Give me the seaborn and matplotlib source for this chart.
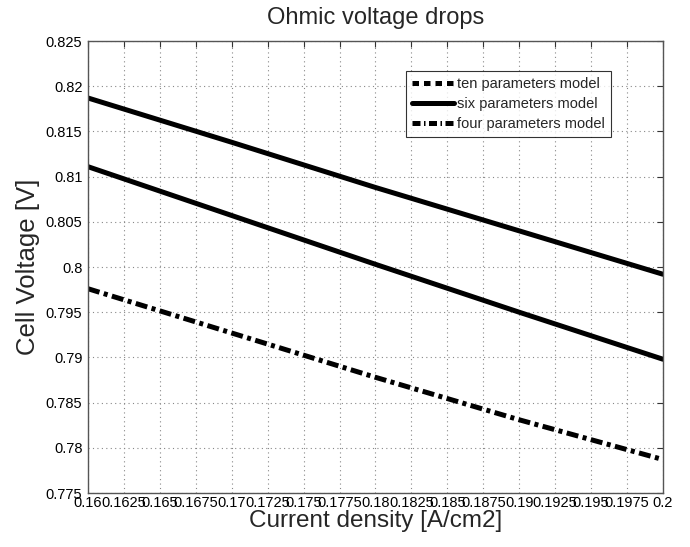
import matplotlib
matplotlib.use("Agg")
import matplotlib.pyplot as plt
import seaborn as sns
import pandas as pd
from matplotlib.lines import Line2D

# Data
current_density = [0.16, 0.17, 0.18, 0.19, 0.20]
ten_params = [0.8187, 0.8138, 0.8088, 0.8040, 0.7992]
six_params = [0.8111, 0.8057, 0.8003, 0.7950, 0.7898]
four_params = [0.7976, 0.7927, 0.7878, 0.7831, 0.7787]

x_ticks = [0.16, 0.1625, 0.165, 0.1675, 0.17, 0.1725, 0.175, 0.1775, 0.18,
           0.1825, 0.185, 0.1875, 0.19, 0.1925, 0.195, 0.1975, 0.2]
x_tick_labels = ["0.16", "0.1625", "0.165", "0.1675", "0.17", "0.1725", "0.175",
                 "0.1775", "0.18", "0.1825", "0.185", "0.1875", "0.19", "0.1925",
                 "0.195", "0.1975", "0.2"]
y_ticks = [0.775, 0.78, 0.785, 0.79, 0.795, 0.8, 0.805, 0.81, 0.815, 0.82, 0.825]
y_tick_labels = ["0.775", "0.78", "0.785", "0.79", "0.795", "0.8", "0.805",
                 "0.81", "0.815", "0.82", "0.825"]
legend_labels = ["ten parameters model", "six parameters model", "four parameters model"]

sns.set_style("white")
plt.rcParams['font.family'] = ['Liberation Sans', 'DejaVu Sans']

fig = plt.figure(figsize=(6.9, 5.47), dpi=100)
ax = fig.add_axes([0.1275, 0.0987, 0.8333, 0.8263])

df = pd.DataFrame({"x": current_density, "ten": ten_params,
                   "six": six_params, "four": four_params})
lw = 3.6
sns.lineplot(data=df, x="x", y="ten", ax=ax, color="black", linewidth=lw)
sns.lineplot(data=df, x="x", y="six", ax=ax, color="black", linewidth=lw)
sns.lineplot(data=df, x="x", y="four", ax=ax, color="black", linewidth=lw,
             dashes=False)
ax.lines[-1].set_dashes((2.4, 0.9, 0.8, 0.9))

ax.set_xlim(0.16, 0.2)
ax.set_ylim(0.775, 0.825)
ax.set_xticks(x_ticks)
ax.set_xticklabels(x_tick_labels)
ax.set_yticks(y_ticks)
ax.set_yticklabels(y_tick_labels)
ax.tick_params(direction="in", length=4, width=0.8, labelsize=10.5, colors="#333333",
               labelcolor="black", top=True, right=True)
ax.tick_params(axis="y", pad=4)
ax.tick_params(axis="x", pad=2)
ax.grid(True, linestyle=(0, (1, 3)), color="#888888", linewidth=0.8)
for s in ax.spines.values():
    s.set_color("#555555")
    s.set_linewidth(1.0)

ax.set_title("Ohmic voltage drops", fontsize=17, pad=12)
ax.set_xlabel("Current density [A/cm2]", fontsize=17.5, labelpad=0)
ax.set_ylabel("Cell Voltage [V]", fontsize=18.5, labelpad=4)

handles = [
    Line2D([], [], color="black", linewidth=lw, linestyle=(0, (1.3, 1.0))),
    Line2D([], [], color="black", linewidth=lw, linestyle="-"),
    Line2D([], [], color="black", linewidth=lw, linestyle=(0, (1.6, 0.7, 0.3, 0.7))),
]
leg = ax.legend(handles, legend_labels, loc="upper left",
                bbox_to_anchor=(0.553, 0.933), fontsize=10.5, frameon=True,
                fancybox=False, edgecolor="black", handlelength=2.9,
                handletextpad=0.2, borderpad=0.4, labelspacing=0.4,
                borderaxespad=0)
leg.get_frame().set_linewidth(0.8)

fig.savefig("out.png", dpi=100)
